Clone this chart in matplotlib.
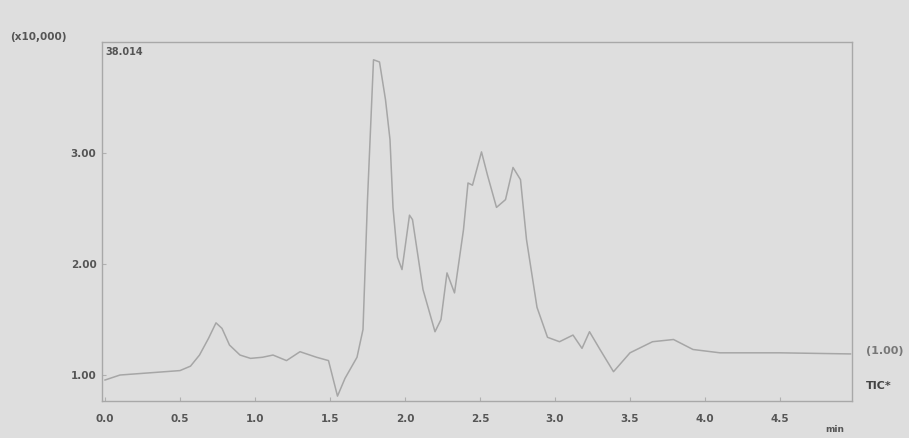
import matplotlib
matplotlib.use("Agg")
import matplotlib.pyplot as plt

# Retention time (min) and intensity (x10,000)
time_min = [0.00, 0.10, 0.30, 0.50, 0.57, 0.63, 0.69, 0.74, 0.78, 0.83, 0.90, 0.97,
            1.05, 1.12, 1.21, 1.30, 1.41, 1.49, 1.55, 1.60, 1.68, 1.72, 1.75, 1.79,
            1.83, 1.87, 1.90, 1.92, 1.95, 1.98, 2.03, 2.05, 2.12, 2.20, 2.24, 2.28,
            2.33, 2.39, 2.42, 2.45, 2.51, 2.55, 2.61, 2.67, 2.72, 2.77, 2.81, 2.88,
            2.95, 3.03, 3.12, 3.18, 3.23, 3.30, 3.39, 3.50, 3.65, 3.79, 3.92, 4.10,
            4.50, 4.97]
intensity = [0.955, 1.00, 1.02, 1.04, 1.08, 1.18, 1.33, 1.47, 1.42, 1.27, 1.18, 1.15,
             1.16, 1.18, 1.13, 1.21, 1.16, 1.13, 0.81, 0.97, 1.16, 1.41, 2.58, 3.84,
             3.82, 3.48, 3.12, 2.51, 2.06, 1.95, 2.44, 2.40, 1.77, 1.39, 1.50, 1.92,
             1.74, 2.31, 2.73, 2.71, 3.01, 2.80, 2.51, 2.58, 2.87, 2.76, 2.22, 1.61,
             1.34, 1.30, 1.36, 1.24, 1.39, 1.23, 1.03, 1.20, 1.30, 1.32, 1.23, 1.20,
             1.20, 1.19]

x_ticks = [0.0, 0.5, 1.0, 1.5, 2.0, 2.5, 3.0, 3.5, 4.0, 4.5]
x_tick_labels = ["0.0", "0.5", "1.0", "1.5", "2.0", "2.5", "3.0", "3.5", "4.0", "4.5"]
y_ticks = [1.0, 2.0, 3.0]
y_tick_labels = ["1.00", "2.00", "3.00"]

bg = "#dedede"
txt = "#555555"

fig = plt.figure(figsize=(9.09, 4.38), dpi=100, facecolor=bg)
ax = fig.add_axes([102/909, 1 - 401/438, (852-102)/909, (401-42)/438], facecolor=bg)

ax.plot(time_min, intensity, color="#a6a6a6", lw=1.1)

ax.set_xlim(-0.02, 4.98)
ax.set_ylim(0.766, 4.0)
ax.set_xticks(x_ticks)
ax.set_xticklabels(x_tick_labels)
ax.set_yticks(y_ticks)
ax.set_yticklabels(y_tick_labels)
ax.tick_params(axis="both", colors="#b0b0b0", labelcolor=txt, labelsize=7.5,
               length=3, width=0.8, direction="in")
ax.tick_params(axis="x", pad=9)
ax.tick_params(axis="y", pad=4)
for lab in ax.get_xticklabels() + ax.get_yticklabels():
    lab.set_fontweight("bold")
for s in ax.spines.values():
    s.set_color("#a8a8a8")
    s.set_linewidth(1.0)

fig.text(10/909, 1 - 37/438, "(x10,000)", color=txt, fontsize=7.5, fontweight="bold",
         va="center", ha="left")
ax.text(0.005, 0.985, "38.014", transform=ax.transAxes, color=txt, fontsize=7,
        fontweight="bold", va="top", ha="left")
fig.text(835/909, 1 - 430/438, "min", color=txt, fontsize=6.5, fontweight="bold",
         va="center", ha="center")
fig.text(866/909, 1 - 351/438, "(1.00)", color="#777777", fontsize=8, fontweight="bold",
         va="center", ha="left")
fig.text(866/909, 1 - 386/438, "TIC*", color="#444444", fontsize=8, fontweight="bold",
         va="center", ha="left")

fig.savefig("out.png", dpi=100, facecolor=bg)
